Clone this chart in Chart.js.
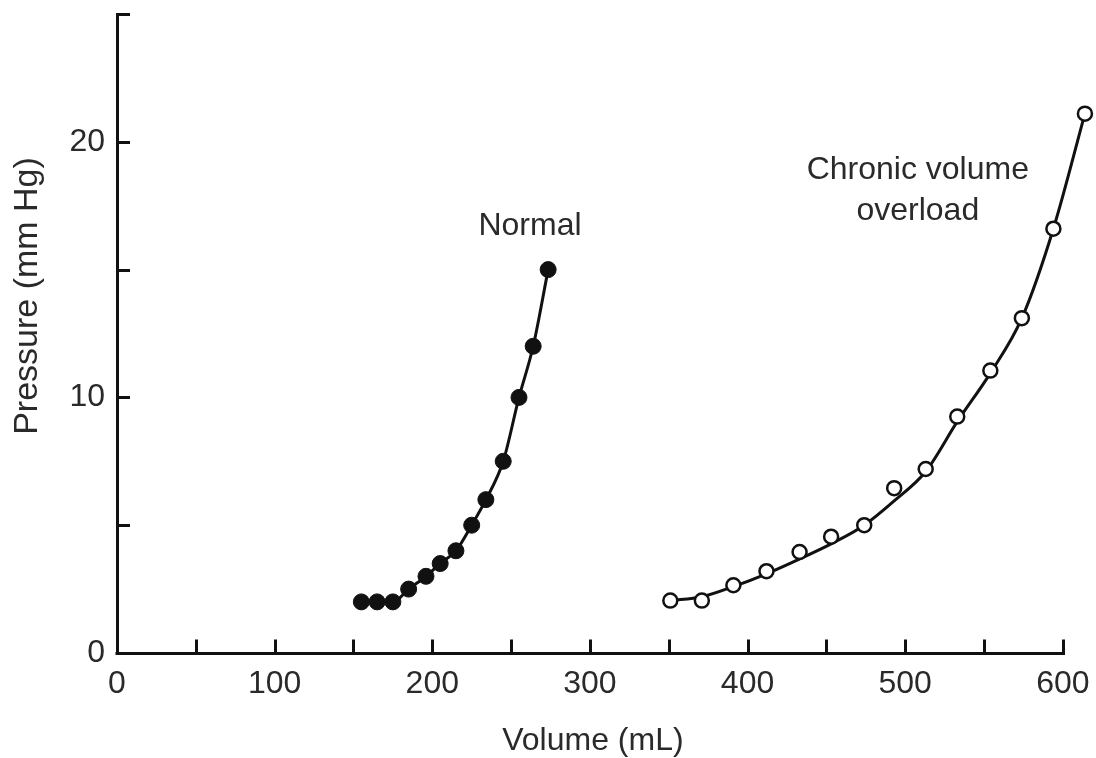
<!DOCTYPE html>
<html>
<head>
<meta charset="utf-8">
<script src="https://cdn.jsdelivr.net/npm/chart.js@4.4.1/dist/chart.umd.min.js"></script>
<style>
  html, body { margin: 0; padding: 0; background: #ffffff; }
  #wrap { width: 1096px; height: 758px; }
</style>
</head>
<body>
<div id="wrap"><canvas id="pv" width="1096" height="758"></canvas></div>
<script>
// Left-ventricular pressure–volume relation
const normalVolume     = [155, 165, 175, 185, 196, 205, 215, 225, 234, 245, 255, 264, 273.5];
const normalPressure   = [2, 2, 2, 2.5, 3, 3.5, 4, 5, 6, 7.5, 10, 12, 15];
const overloadVolume   = [351, 371, 391, 412, 433, 453, 474, 493, 513, 533, 554, 574, 594, 614];
const overloadPressure = [2.05, 2.05, 2.65, 3.2, 3.95, 4.55, 5.0, 6.45, 7.2, 9.25, 11.05, 13.1, 16.6, 21.1];
// smoothed curve drawn through the overload measurements
const overloadFitPressure = [2.05, 2.2, 2.6, 3.1, 3.68, 4.27, 5.0, 5.95, 7.1, 9.05, 10.95, 13.1, 16.6, 21.1];

const xTickValues  = [0, 50, 100, 150, 200, 250, 300, 350, 400, 450, 500, 550, 600];
const xLabelValues = [0, 100, 200, 300, 400, 500, 600];
const yTickValues  = [0, 5, 10, 15, 20, 25];
const yLabelValues = [0, 10, 20];
const X_AXIS_END = 600;   // the drawn volume axis stops here; the last overload point lies past it
const X_RANGE_MAX = 615;

const curveLabels = [
  { lines: ['Normal'], at: [262, 16.34] },
  { lines: ['Chronic volume', 'overload'], at: [508, 18.53] }
];

const FONT = '"Liberation Sans", Arial, Helvetica, sans-serif';
const INK = '#111111';
const TEXT = '#2a2a2a';

const toPoints = (xs, ys) => xs.map((x, i) => ({ x, y: ys[i] }));

// Volume axis line (0–600) and tick marks on the inner side of both axes
const axisDecor = {
  id: 'axisDecor',
  beforeDatasetsDraw(chart) {
    const { ctx, scales: { x, y } } = chart;
    ctx.save();
    ctx.strokeStyle = INK;
    ctx.lineWidth = 3;
    ctx.lineCap = 'butt';
    const x0 = x.getPixelForValue(0);
    const xEnd = x.getPixelForValue(X_AXIS_END);
    const y0 = Math.round(y.getPixelForValue(0)) + 0.5;
    ctx.beginPath();
    ctx.moveTo(x0 - 1.5, y0);
    ctx.lineTo(Math.round(xEnd) + 2, y0);
    ctx.stroke();
    x.ticks.forEach(t => {
      if (t.value === 0 || t.value > X_AXIS_END) return;
      const px = Math.round(x.getPixelForValue(t.value)) + 0.5;
      ctx.beginPath();
      ctx.moveTo(px, y0);
      ctx.lineTo(px, y0 - 14);
      ctx.stroke();
    });
    y.ticks.forEach(t => {
      if (t.value === 0) return;
      const py = Math.round(y.getPixelForValue(t.value)) + 0.5;
      ctx.beginPath();
      ctx.moveTo(x0, py);
      ctx.lineTo(x0 + 13, py);
      ctx.stroke();
    });
    ctx.restore();
  }
};

// Curve names and both axis titles
const textLayer = {
  id: 'textLayer',
  afterDraw(chart) {
    const { ctx, scales: { x, y } } = chart;
    ctx.save();
    ctx.fillStyle = TEXT;
    ctx.font = '32px ' + FONT;
    ctx.textAlign = 'center';
    ctx.textBaseline = 'alphabetic';
    curveLabels.forEach(lbl => {
      const cx = x.getPixelForValue(lbl.at[0]);
      const by = y.getPixelForValue(lbl.at[1]);
      lbl.lines.forEach((s, i) => ctx.fillText(s, cx, by + i * 41));
    });
    const midX = (x.getPixelForValue(0) + x.getPixelForValue(X_AXIS_END)) / 2 + 3;
    ctx.fillText('Volume (mL)', midX, 750);
    ctx.translate(28, 296);
    ctx.rotate(-Math.PI / 2);
    ctx.textBaseline = 'middle';
    ctx.font = '34px ' + FONT;
    ctx.fillText('Pressure (mm Hg)', 0, 0);
    ctx.restore();
  }
};

new Chart(document.getElementById('pv'), {
  type: 'line',
  data: {
    datasets: [
      {
        label: 'Normal',
        data: toPoints(normalVolume, normalPressure),
        borderColor: INK,
        borderWidth: 3,
        cubicInterpolationMode: 'monotone',
        pointRadius: 8,
        pointBackgroundColor: INK,
        pointBorderColor: INK,
        pointBorderWidth: 1,
        fill: false,
        clip: false
      },
      {
        label: 'Chronic volume overload (curve)',
        data: toPoints(overloadVolume, overloadFitPressure),
        borderColor: INK,
        borderWidth: 3,
        cubicInterpolationMode: 'monotone',
        pointRadius: 0,
        fill: false,
        clip: false,
        order: 2
      },
      {
        label: 'Chronic volume overload',
        data: toPoints(overloadVolume, overloadPressure),
        showLine: false,
        pointRadius: 7,
        pointBackgroundColor: '#ffffff',
        pointBorderColor: INK,
        pointBorderWidth: 2.5,
        fill: false,
        clip: false,
        order: 1
      }
    ]
  },
  options: {
    responsive: false,
    animation: false,
    devicePixelRatio: 1,
    layout: { padding: { top: 14, right: 9.35, left: 0, bottom: 0 } },
    plugins: { legend: { display: false }, tooltip: { enabled: false } },
    scales: {
      x: {
        type: 'linear',
        min: 0,
        max: X_RANGE_MAX,
        afterBuildTicks(s) { s.ticks = xTickValues.map(v => ({ value: v })); },
        afterFit(s) { s.height = 105; s.paddingLeft = 0; s.paddingRight = 0; },
        grid: { display: false, drawTicks: false },
        border: { display: false },
        ticks: {
          autoSkip: false,
          maxRotation: 0,
          padding: 12,
          color: TEXT,
          font: { family: FONT, size: 32 },
          callback: v => (xLabelValues.includes(v) ? String(v) : '')
        }
      },
      y: {
        type: 'linear',
        min: 0,
        max: 25,
        afterBuildTicks(s) { s.ticks = yTickValues.map(v => ({ value: v })); },
        afterFit(s) { s.width = 117; s.paddingTop = 0; s.paddingBottom = 0; },
        grid: { display: false, drawTicks: false },
        border: { display: true, color: INK, width: 3 },
        ticks: {
          autoSkip: false,
          padding: 12,
          color: TEXT,
          font: { family: FONT, size: 32 },
          callback: v => (yLabelValues.includes(v) ? String(v) : '')
        }
      }
    }
  },
  plugins: [axisDecor, textLayer]
});
</script>
</body>
</html>
